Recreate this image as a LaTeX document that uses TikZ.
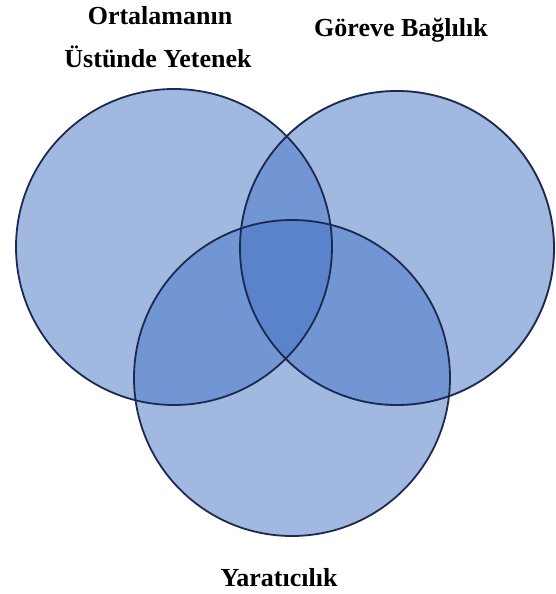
\documentclass[tikz,border=0pt]{standalone}
\usepackage{fontspec}
\setmainfont{Liberation Serif}
\definecolor{vennfill}{RGB}{68,114,196}
\definecolor{vennline}{RGB}{28,42,80}
\begin{document}
\begin{tikzpicture}[x=1pt,y=1pt,
  vennset/.style={circle,inner sep=0pt,minimum size=316pt,fill=vennfill,fill opacity=0.5},
  vennborder/.style={draw=vennline,line width=1.8pt},
  lbl/.style={anchor=base,inner sep=0pt,font=\fontsize{26}{30}\selectfont\bfseries}]
\useasboundingbox (0,0) rectangle (555,594);
\node[vennset] (L) at (174,347) {};
\node[vennset] (R) at (397,346) {};
\node[vennset] (B) at (292,216) {};
\draw[vennborder] (L.center) circle[radius=158pt];
\draw[vennborder] (R.center) circle[radius=157pt];
\draw[vennborder] (B.center) circle[radius=158pt];
\node[lbl] (t1) at (160,569) {Ortalamanın};
\node[lbl] (t2) at (158,526) {Üstünde Yetenek};
\node[lbl] (t3) at (401,557) {Göreve Bağlılık};
\node[lbl] (t4) at (279,8) {Yaratıcılık};
\end{tikzpicture}
\end{document}
